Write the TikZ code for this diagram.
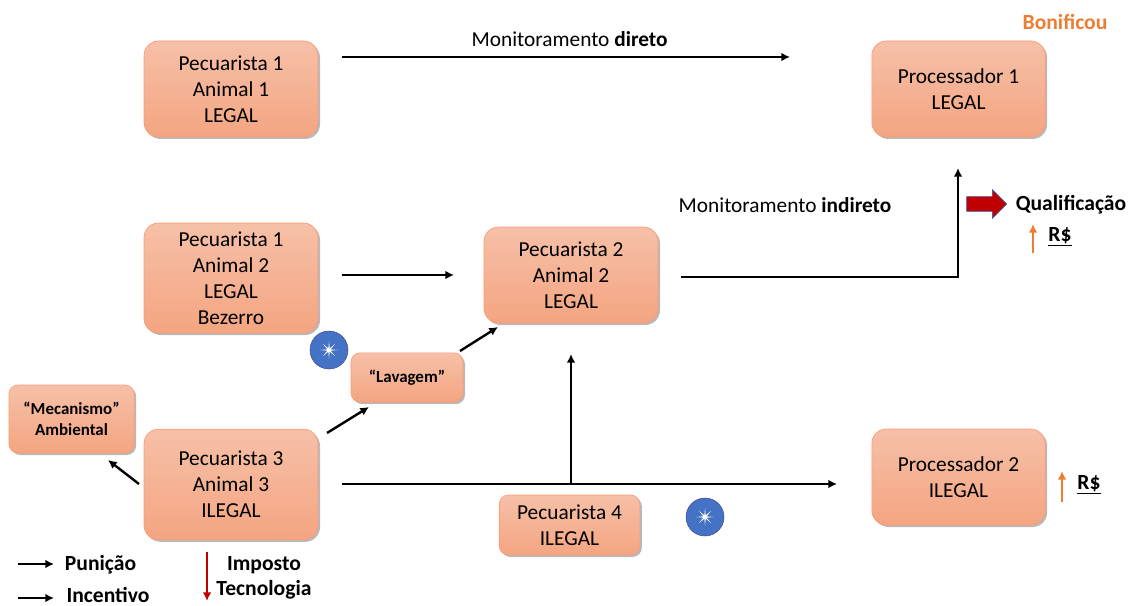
\documentclass[tikz,border=0pt]{standalone}
\usepackage{fontspec}
\setmainfont{Carlito}
\usetikzlibrary{positioning,shadows,shapes.arrows,shapes.geometric,arrows.meta}
\tikzset{
  caixa/.style={draw=orange!55!red!55, line width=0.5pt, top color=boxtop, bottom color=boxbot,
    rounded corners=11pt, align=center, font=\fontsize{16}{19.5}\selectfont,
    inner sep=0pt, drop shadow={shadow xshift=1.5pt, shadow yshift=-1.5pt, opacity=0.55}},
  caixap/.style={caixa, rounded corners=7pt, font=\bfseries\fontsize{12.7}{15.5}\selectfont},
  seta/.style={draw=black, line width=1.8pt, -{Latex[length=6.5pt,width=6.5pt]}},
  rotulo/.style={font=\fontsize{16}{19.5}\selectfont, align=center, inner sep=0pt},
  negrito/.style={rotulo, font=\bfseries\fontsize{16.2}{19.5}\selectfont},
  bola/.style={circle, draw=blue!40!black!70, line width=0.4pt, fill=bolaazul, minimum size=28.5pt, inner sep=0pt},
  brilho/.style={star, star points=8, star point ratio=5, fill=white, minimum size=13pt, inner sep=0pt},
}
\definecolor{boxtop}{HTML}{F6C0A8}
\definecolor{boxbot}{HTML}{F4A581}
\definecolor{bolaazul}{HTML}{4472C4}
\definecolor{laranja}{HTML}{ED7D31}
\definecolor{vermelho}{HTML}{C00000}
\begin{document}
\begin{tikzpicture}[x=0.75pt,y=-0.75pt]
  \useasboundingbox (0,0) rectangle (1128,606);

  % caixas
  \node[caixa, minimum width=130.5pt, minimum height=72pt] (pec1) at (231,89) {Pecuarista 1\\Animal 1\\LEGAL};
  \node[caixa, minimum width=130.5pt, minimum height=82.5pt] (pec1b) at (231,278) {Pecuarista 1\\Animal 2\\LEGAL\\Bezerro};
  \node[caixa, minimum width=130.5pt, minimum height=83pt] (pec3) at (231,484.5) {Pecuarista 3\\Animal 3\\ILEGAL};
  \node[caixa, minimum width=130.5pt, minimum height=72pt] (pec2) at (571,275) {Pecuarista 2\\Animal 2\\LEGAL};
  \node[caixa, minimum width=105.5pt, minimum height=45pt, rounded corners=7pt] (pec4) at (569.5,525) {Pecuarista 4\\ILEGAL};
  \node[caixa, minimum width=130pt, minimum height=72pt] (proc1) at (958.5,89) {Processador 1\\LEGAL};
  \node[caixa, minimum width=130pt, minimum height=72pt] (proc2) at (958.5,477) {Processador 2\\ILEGAL};
  \node[caixap, minimum width=84pt, minimum height=37pt] (lavagem) at (407,377.5) {“Lavagem”};
  \node[caixap, minimum width=94pt, minimum height=51pt] (mecanismo) at (71.5,419) {“Mecanismo”\\Ambiental};

  % pontos livres
  \coordinate (d1) at (342,57);
  \coordinate (d2) at (790,57);
  \coordinate (i1) at (342,484);
  \coordinate (i2) at (837,484);
  \coordinate (ramo) at (571,484);
  \coordinate (topo) at (571,354);
  \coordinate (canto) at (958,277);
  \coordinate (fim) at (958,168);
  \coordinate (b1) at (342,275);
  \coordinate (b2) at (454,275);
  \coordinate (p2) at (681,277);
  \coordinate (l1) at (327,433);
  \coordinate (l2) at (369,407);
  \coordinate (l3) at (460,351);
  \coordinate (l4) at (498,327);
  \coordinate (m1) at (139,484);
  \coordinate (m2) at (108,460);

  % setas
  \draw[seta] (d1) --node[midway, above=6.5pt, xshift=2.7pt, rotulo]{Monitoramento \textbf{direto}} (d2);
  \draw[seta] (b1) -- (b2);
  \draw[seta] (p2) -- (canto) -- (fim);
  \draw[seta] (i1) -- (i2);
  \draw[seta] (ramo) -- (topo);
  \draw[seta] (l1) -- (l2);
  \draw[seta] (l3) -- (l4);
  \draw[seta] (m1) -- (m2);

  % textos soltos
  \node[rotulo] (indireto) at (785,205) {Monitoramento \textbf{indireto}};
  \node[negrito, text=laranja] (bonificou) at (1065,22) {Bonificou};
  \node[negrito] (qualificacao) at (1071,205) {Qualificação};
  \node[negrito] (rs1) at (1060,237) {\underline{R\$}};
  \node[negrito] (rs2) at (1089,485) {\underline{R\$}};

  \node[single arrow, draw=blue!40!black!70, line width=0.5pt, fill=vermelho, inner xsep=0pt, inner ysep=5.25pt,
    minimum height=30pt, single arrow head extend=5.25pt, single arrow tip angle=90] (blocoseta) at (983,204) {};

  \coordinate (r1a) at (1033,253);
  \coordinate (r1b) at (1033,224);
  \coordinate (r2a) at (1062,502);
  \coordinate (r2b) at (1062,471);
  \draw[line width=1.6pt, draw=laranja, -{Latex[length=6.5pt,width=6.5pt]}] (r1a) -- (r1b);
  \draw[line width=1.6pt, draw=laranja, -{Latex[length=6.5pt,width=6.5pt]}] (r2a) -- (r2b);

  % estrelas
  \foreach \nome/\pos in {e1/{(329,350)}, e2/{(705,517)}} {
    \node[bola] (\nome) at \pos {};
    \node[brilho] at (\nome) {};
  }

  % legenda
  \coordinate (c1) at (18,564);
  \coordinate (c2) at (54,564);
  \coordinate (c3) at (18,598);
  \coordinate (c4) at (54,598);
  \coordinate (c5) at (207,552);
  \coordinate (c6) at (207,601);
  \draw[seta] (c1) -- (c2);
  \draw[seta] (c3) -- (c4);
  \draw[line width=1.6pt, draw=vermelho, -{Latex[length=6.5pt,width=6.5pt]}] (c5) -- (c6);
  \node[negrito] (punicao) at (100.5,565) {Punição};
  \node[negrito] (incentivo) at (108,595) {Incentivo};
  \node[negrito] (imposto) at (264,565) {Imposto};
  \node[negrito] (tecnologia) at (264,590) {Tecnologia};
\end{tikzpicture}
\end{document}
